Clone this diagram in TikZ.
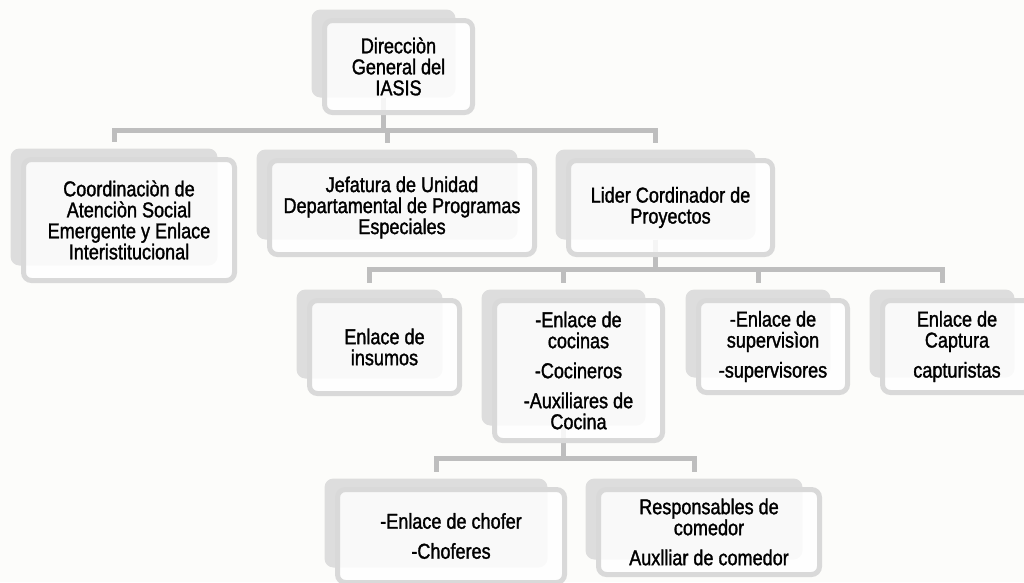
\documentclass[tikz,border=0pt]{standalone}
\usepackage{xcolor}
\usepackage{fontspec}
\setmainfont{Liberation Sans}[FakeStretch=0.84,FakeBold=1.4]
\usepackage{tikz}
\usetikzlibrary{backgrounds,fit}

\definecolor{backgrey}{RGB}{221,221,221}
\definecolor{framegrey}{RGB}{217,217,217}
\definecolor{linegrey}{RGB}{190,190,190}
\definecolor{pagecol}{RGB}{252,252,250}

\tikzset{
  unit/.style={draw=framegrey, line width=5pt, rounded corners=8pt, fill=white,
    fill opacity=0.85, text opacity=1, align=center, inner sep=0pt,
    font=\fontsize{21.5}{21}\selectfont},
  shadebox/.style={fill=backgrey, rounded corners=9pt, inner sep=0pt, draw=none},
  conn/.style={draw=linegrey, line width=5pt, shorten >=6pt},
}

% back panel behind a unit: shadow shifted up and left
\newcommand{\backpanel}[1]{%
  \path ([xshift=-10.5pt,yshift=8.5pt]#1.north west) coordinate (#1-nw)
        ([xshift=-19.5pt,yshift=17.5pt]#1.south east) coordinate (#1-se);
  \node[shadebox, fit=(#1-nw)(#1-se)] (#1-b) {};}

\begin{document}
\begin{tikzpicture}[x=1pt,y=-1pt]
\useasboundingbox (0,0) rectangle (1024,582);

% nodes %
\node[unit, minimum width=148pt, minimum height=92pt] (dir) at (398.5,66.5) {Direcciòn\\General del\\IASIS};
\node[unit, minimum width=211pt, minimum height=121pt] (coord) at (129,220) {Coordinaciòn de\\Atenciòn Social\\Emergente y Enlace\\Interistitucional};
\node[unit, minimum width=265pt, minimum height=94pt] (jef) at (402,207.5) {Jefatura de Unidad\\Departamental de Programas\\Especiales};
\node[unit, minimum width=204pt, minimum height=94pt] (lider) at (670.5,207.5) {Lider Cordinador de\\Proyectos};
\node[unit, minimum width=150pt, minimum height=93pt] (ins) at (384.5,347) {Enlace de\\insumos};
\node[unit, minimum width=168pt, minimum height=140pt] (coc) at (578.5,370.5) {-Enlace de\\cocinas\\[9pt]-Cocineros\\[9pt]-Auxiliares de\\Cocina};
\node[unit, minimum width=149pt, minimum height=92pt] (sup) at (773,346.5) {-Enlace de\\supervisìon\\[9pt]-supervisores};
\node[unit, minimum width=149pt, minimum height=92pt] (cap) at (957,346.5) {Enlace de\\Captura\\[9pt]capturistas};
\node[unit, minimum width=227pt, minimum height=93pt] (chof) at (451,536) {-Enlace de chofer\\[9pt]-Choferes};
\node[unit, minimum width=221pt, minimum height=85pt] (resp) at (709,532) {Responsables de\\comedor\\[9pt]Auxlliar de comedor};

\coordinate (bus1) at (0,130);
\coordinate (bus2) at (0,269);
\coordinate (bus3) at (0,458);

\begin{pgfonlayer}{background}
\fill[pagecol] (0,0) rectangle (1024,582);
\backpanel{dir}
\backpanel{coord}
\backpanel{jef}
\backpanel{lider}
\backpanel{ins}
\backpanel{coc}
\backpanel{sup}
\backpanel{cap}
\backpanel{chof}
\backpanel{resp}

% edges %
\draw[conn] (dir-b.south) -- (dir-b.south |- bus1) -| (coord-b.north);
\draw[conn] (dir-b.south) -- (dir-b.south |- bus1) -| (jef-b.north);
\draw[conn] (dir-b.south) -- (dir-b.south |- bus1) -| (lider-b.north);
\draw[conn] (lider-b.south) -- (lider-b.south |- bus2) -| (ins-b.north);
\draw[conn] (lider-b.south) -- (lider-b.south |- bus2) -| (coc-b.north);
\draw[conn] (lider-b.south) -- (lider-b.south |- bus2) -| (sup-b.north);
\draw[conn] (lider-b.south) -- (lider-b.south |- bus2) -| (cap-b.north);
\draw[conn] (coc-b.south) -- (coc-b.south |- bus3) -| (chof-b.north);
\draw[conn] (coc-b.south) -- (coc-b.south |- bus3) -| (resp-b.north);
\end{pgfonlayer}
\end{tikzpicture}
\end{document}
